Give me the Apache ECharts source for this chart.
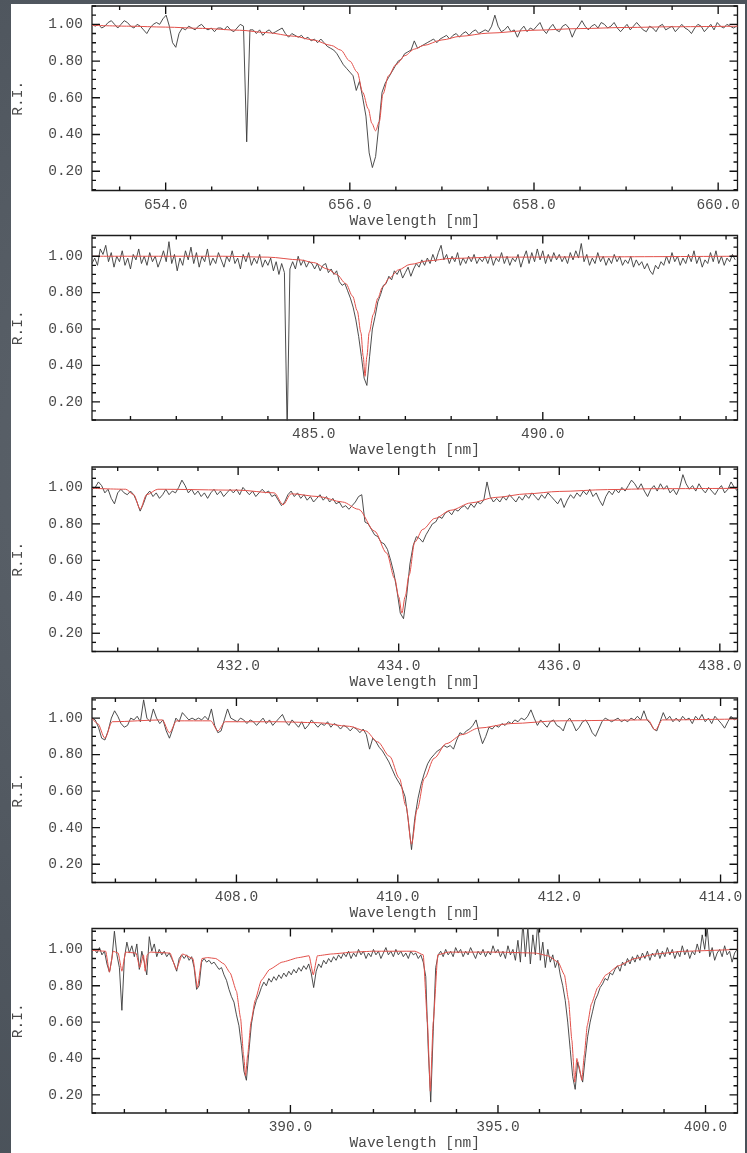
<!DOCTYPE html>
<html>
<head>
<meta charset="utf-8">
<script src="https://cdn.jsdelivr.net/npm/echarts@6/dist/echarts.min.js"></script>
<style>
  html, body { margin: 0; padding: 0; }
  body { width: 747px; height: 1153px; position: relative; overflow: hidden;
         background: radial-gradient(circle at 30% 40%, #5d646c 0%, #4f565e 60%, #485058 100%); }
  #sheet { position: absolute; left: 11px; top: 4px; width: 734px; height: 1149px; background: #ffffff; }
  #chart { position: absolute; left: 0; top: 0; width: 747px; height: 1153px; }
</style>
</head>
<body>
<div id="sheet"></div>
<div id="chart"></div>
<script>
// ---- H-alpha region: observed flux sampled from ha_wl0 with ha_step (nm) ----
const ha_wl0 = 653.2, ha_step = 0.035;
const ha_obs = [
  1.00,0.99,1.00,0.98,0.99,1.01,1.02,1.00,0.98,1.00,
  1.02,1.01,0.99,0.98,1.00,0.99,0.97,0.95,0.98,1.00,
  1.01,1.00,1.03,1.05,0.99,0.90,0.875,0.95,0.98,0.97,
  0.99,0.98,0.97,0.99,1.00,0.98,0.97,0.98,0.96,0.98,
  0.98,0.97,0.99,0.97,0.96,0.98,1.00,0.99,0.36,0.97,
  0.97,0.95,0.97,0.94,0.96,0.97,0.95,0.96,0.97,0.98,
  0.95,0.93,0.95,0.94,0.93,0.94,0.92,0.93,0.91,0.92,
  0.90,0.92,0.90,0.88,0.87,0.86,0.84,0.81,0.78,0.76,
  0.74,0.72,0.64,0.69,0.60,0.50,0.30,0.22,0.28,0.45,
  0.63,0.68,0.71,0.74,0.77,0.80,0.81,0.84,0.85,0.86,
  0.91,0.87,0.88,0.89,0.90,0.91,0.92,0.90,0.92,0.93,
  0.94,0.92,0.94,0.95,0.93,0.95,0.96,0.94,0.96,0.97,
  0.95,0.96,0.97,0.96,0.99,1.05,0.99,0.96,0.97,0.99,
  0.96,0.97,0.93,0.97,0.99,0.96,0.98,0.97,0.99,1.01,
  0.97,0.95,0.98,1.00,0.97,0.96,0.99,1.00,0.98,0.93,
  0.97,0.99,1.02,0.99,0.97,0.99,1.00,0.98,1.01,1.00,
  0.98,0.99,1.01,0.98,0.96,0.98,1.00,0.97,0.99,1.01,
  0.99,0.97,0.96,0.99,0.98,0.96,0.99,1.00,0.97,0.98,
  0.99,0.96,0.98,1.00,0.98,0.97,0.95,0.98,1.00,0.99,
  0.96,0.98,1.00,0.97,1.01,0.99,0.98,1.00,0.99,0.98,
  0.99
];
const ha_fit_wl = [653.2,653.6,654.0,654.4,654.8,655.1,655.4,655.6,655.8,655.9,656.0,656.08,656.14,656.2,656.24,656.28,656.32,656.36,656.42,656.5,656.6,656.7,656.8,657.0,657.2,657.5,658.0,658.5,659.0,659.5,660.21];
const ha_fit    = [0.995,0.99,0.985,0.978,0.968,0.955,0.935,0.915,0.885,0.86,0.80,0.74,0.63,0.54,0.46,0.42,0.47,0.62,0.72,0.78,0.83,0.865,0.885,0.915,0.935,0.952,0.968,0.977,0.983,0.987,0.99];
const ha_ticks  = [654, 656, 658, 660];

// ---- H-beta region ----
const hb_wl0 = 480.16, hb_step = 0.06;
const hb_obs = [
  0.96,0.99,0.95,1.04,1.01,1.06,0.97,1.02,0.94,1.00,
  0.97,1.03,0.95,0.99,0.93,1.01,0.98,1.04,0.96,1.00,
  0.95,1.02,0.97,1.00,0.94,0.98,1.03,0.97,1.08,0.96,
  1.01,0.92,0.99,0.95,1.03,0.98,1.05,0.96,1.02,0.94,
  1.00,0.97,1.04,0.95,0.99,0.96,1.02,0.98,0.94,1.00,
  0.97,1.03,0.96,0.99,0.93,1.01,0.97,1.02,0.95,0.99,
  0.96,1.01,0.94,0.98,0.95,0.99,0.92,0.97,0.90,0.96,
  0.91,0.04,0.93,0.97,0.93,1.00,0.95,0.98,0.94,0.97,
  0.96,0.93,0.96,0.92,0.95,0.96,0.91,0.93,0.90,0.92,
  0.86,0.84,0.85,0.81,0.77,0.72,0.65,0.56,0.45,0.33,
  0.29,0.45,0.60,0.67,0.75,0.79,0.84,0.85,0.89,0.87,
  0.92,0.90,0.93,0.88,0.91,0.94,0.89,0.93,0.96,0.94,
  0.98,0.95,0.99,0.96,1.01,0.97,1.02,1.06,0.98,1.01,
  0.96,1.00,0.97,1.02,0.95,0.99,0.96,1.00,0.97,1.01,
  0.96,0.99,0.97,1.00,0.96,1.01,0.95,0.99,0.97,1.02,
  0.96,1.00,0.95,0.99,0.97,1.01,0.94,0.99,1.03,0.96,
  1.02,0.97,1.04,0.98,1.03,0.96,1.01,0.97,1.02,0.98,
  1.01,0.97,1.00,0.96,1.02,0.98,1.03,0.99,1.07,0.97,
  1.01,0.95,0.99,0.96,1.02,0.97,1.00,0.95,0.99,0.96,
  1.01,0.97,1.00,0.95,0.98,0.96,1.00,0.94,0.98,0.95,
  0.97,0.93,0.96,0.92,0.90,0.95,0.93,0.97,0.95,1.00,
  0.96,1.02,0.97,1.00,0.95,0.99,0.96,1.01,0.97,1.03,
  0.96,1.00,0.94,0.98,0.96,1.02,0.97,1.03,0.96,1.00,
  0.95,0.99,0.97,1.01,0.98
];
const hb_fit_wl = [480.16,483.0,484.0,484.7,485.0,485.3,485.5,485.7,485.85,485.95,486.03,486.08,486.12,486.16,486.21,486.3,486.4,486.5,486.65,486.85,487.1,487.5,488.0,489.0,494.25];
const hb_fit    = [1.0,1.0,0.995,0.98,0.965,0.93,0.90,0.85,0.78,0.70,0.58,0.45,0.34,0.45,0.58,0.68,0.77,0.83,0.88,0.925,0.955,0.975,0.988,0.995,1.0];
const hb_ticks  = [485, 490];

// ---- H-gamma region ----
const hg_wl0 = 430.18, hg_step = 0.04;
const hg_obs = [
  0.99,1.00,1.03,1.01,0.97,0.99,0.94,0.91,0.97,0.99,
  0.97,0.96,0.98,0.96,0.92,0.87,0.91,0.96,0.98,0.95,
  0.97,0.94,0.96,0.99,0.96,0.98,0.97,1.00,1.04,1.01,
  0.97,0.99,0.96,0.98,0.95,0.97,0.94,0.97,0.99,0.96,
  0.98,0.95,0.97,0.99,0.97,0.99,0.96,1.00,0.98,0.96,
  0.98,0.95,0.97,0.99,0.97,0.98,0.95,0.96,0.93,0.90,
  0.92,0.96,0.98,0.95,0.97,0.94,0.96,0.93,0.95,0.92,
  0.94,0.96,0.93,0.95,0.92,0.94,0.91,0.92,0.89,0.90,
  0.88,0.90,0.92,0.95,0.96,0.81,0.80,0.77,0.74,0.73,
  0.70,0.69,0.66,0.60,0.53,0.43,0.31,0.28,0.41,0.58,
  0.68,0.73,0.72,0.70,0.74,0.77,0.80,0.81,0.84,0.83,
  0.86,0.87,0.85,0.88,0.87,0.89,0.90,0.88,0.91,0.89,
  0.92,0.91,0.93,1.03,0.95,0.92,0.94,0.92,0.95,0.93,
  0.96,0.94,0.92,0.95,0.93,0.96,0.94,0.97,0.95,0.93,
  0.96,0.94,0.97,0.95,0.93,0.91,0.94,0.89,0.93,0.96,
  0.94,0.97,0.95,0.98,0.96,0.99,0.95,0.97,0.93,0.90,
  0.95,0.98,0.96,0.99,0.97,1.00,0.98,1.01,1.04,1.02,
  0.99,1.02,0.98,0.95,0.99,1.01,0.98,1.02,0.99,1.01,
  0.97,0.99,0.96,1.00,1.07,1.02,0.99,1.01,0.98,1.02,
  0.99,0.97,1.00,0.98,0.96,0.99,1.01,0.97,0.99,1.03,
  1.00,0.98
];
const hg_fit_wl = [430.18,430.6,430.7,430.78,430.86,431.0,432.0,432.45,432.56,432.66,433.0,433.3,433.5,433.7,433.85,433.95,434.0,434.04,434.08,434.13,434.2,434.3,434.45,434.65,434.9,435.2,435.6,436.0,436.6,437.2,438.22];
const hg_fit    = [0.995,0.99,0.96,0.88,0.96,0.99,0.985,0.97,0.905,0.965,0.95,0.92,0.88,0.76,0.64,0.50,0.40,0.31,0.40,0.52,0.70,0.77,0.83,0.875,0.915,0.945,0.965,0.978,0.988,0.993,0.995];
const hg_ticks  = [432, 434, 436, 438];

// ---- H-delta region ----
const hd_wl0 = 406.21, hd_step = 0.04;
const hd_obs = [
  1.00,0.99,0.95,0.89,0.88,0.93,1.00,1.04,1.01,0.97,
  0.95,0.96,1.00,0.99,1.01,0.98,1.10,1.00,0.98,1.05,
  1.00,0.97,0.99,0.93,0.89,0.94,1.00,0.98,1.03,1.01,
  0.99,1.00,0.99,1.00,0.99,1.01,0.99,1.05,0.96,0.92,
  0.93,0.99,1.05,1.00,0.99,0.98,1.00,0.99,0.97,0.99,
  0.98,0.96,0.98,1.00,0.97,0.99,0.96,0.98,1.00,1.02,
  0.98,0.96,0.99,0.97,0.95,0.98,0.94,0.96,0.99,0.97,
  0.95,0.97,0.96,0.98,0.95,0.97,0.96,0.94,0.96,0.95,
  0.93,0.95,0.94,0.92,0.94,0.91,0.83,0.89,0.87,0.84,
  0.82,0.79,0.76,0.72,0.68,0.65,0.62,0.57,0.44,0.28,
  0.45,0.56,0.64,0.70,0.75,0.78,0.80,0.82,0.83,0.85,
  0.84,0.85,0.83,0.88,0.92,0.91,0.93,0.94,0.96,0.99,
  0.92,0.86,0.90,0.95,0.94,0.96,0.95,0.97,0.96,0.98,
  0.97,0.99,0.98,1.00,0.99,1.01,1.045,1.00,0.96,0.99,
  0.97,0.95,0.98,0.99,0.96,0.95,0.93,0.98,1.00,0.97,
  0.93,0.95,0.98,0.99,0.96,0.92,0.90,0.94,0.98,1.00,
  0.99,0.98,0.99,1.00,0.98,0.99,0.98,1.00,0.99,1.01,
  0.99,1.04,0.99,0.97,0.94,0.93,0.98,1.03,0.99,1.01,
  0.98,1.00,0.98,1.01,0.99,1.00,0.97,1.01,0.99,1.02,
  0.98,1.00,0.97,1.01,0.99,0.97,0.945,0.98,1.01,0.99,
  1.00
];
const hd_fit_wl = [406.21,406.28,406.37,406.46,407.08,407.17,407.26,407.68,407.77,407.86,408.5,409.0,409.4,409.6,409.75,409.9,410.02,410.1,410.17,410.24,410.33,410.45,410.6,410.8,411.0,411.4,412.0,413.1,413.19,413.28,414.21];
const hd_fit    = [1.0,0.97,0.89,0.98,0.99,0.92,0.985,0.985,0.93,0.98,0.98,0.975,0.955,0.93,0.87,0.79,0.67,0.52,0.31,0.50,0.67,0.78,0.86,0.91,0.945,0.97,0.985,0.99,0.935,0.99,0.995];
const hd_ticks  = [408, 410, 412, 414];

// ---- H8 / Ca II K / Ca II H + H-epsilon region ----
const hk_wl0 = 385.22, hk_step = 0.06;
const hk_obs = [
  0.99,1.00,0.98,1.01,0.97,0.99,0.92,0.875,0.95,1.10,
  0.97,0.90,0.665,0.95,1.04,0.98,1.02,0.96,1.03,0.89,
  0.99,0.93,0.86,1.07,0.99,1.03,0.96,1.00,0.97,0.99,
  0.96,0.98,0.95,0.92,0.88,0.95,0.97,0.95,0.97,0.94,
  0.96,0.90,0.78,0.80,0.93,0.95,0.93,0.94,0.92,0.93,
  0.91,0.89,0.90,0.86,0.83,0.78,0.74,0.71,0.64,0.58,
  0.47,0.33,0.28,0.44,0.59,0.67,0.72,0.75,0.79,0.82,
  0.80,0.84,0.82,0.85,0.83,0.86,0.84,0.87,0.85,0.88,
  0.86,0.89,0.87,0.90,0.88,0.91,0.89,0.92,0.87,0.79,
  0.88,0.92,0.90,0.94,0.92,0.95,0.93,0.96,0.94,0.97,
  0.95,0.98,0.96,0.99,0.95,0.98,0.96,1.00,0.97,0.99,
  0.95,0.98,0.96,1.00,0.97,0.99,0.95,0.98,1.01,0.97,
  0.99,0.96,1.00,0.97,0.99,0.96,0.98,0.95,0.99,0.97,
  0.98,0.95,0.97,0.93,0.85,0.45,0.16,0.55,0.90,0.97,
  0.99,0.96,1.00,0.97,0.99,0.96,1.01,0.98,1.00,0.96,
  0.99,0.97,1.01,0.98,0.95,0.99,0.97,1.00,0.96,0.99,
  0.97,1.02,0.98,1.00,0.96,0.99,0.95,1.02,0.97,1.00,
  0.94,1.05,0.93,1.15,0.96,1.12,0.92,1.08,0.97,1.15,
  0.94,1.04,0.90,1.00,0.93,0.97,0.90,0.94,0.86,0.80,
  0.72,0.60,0.45,0.30,0.23,0.38,0.32,0.27,0.40,0.52,
  0.60,0.66,0.72,0.75,0.79,0.81,0.84,0.83,0.87,0.86,
  0.89,0.91,0.88,0.93,0.91,0.95,0.92,0.96,0.93,0.97,
  0.94,0.98,0.95,0.99,0.94,0.98,0.96,1.00,0.95,0.99,
  0.96,1.01,0.97,1.00,0.95,0.99,0.96,1.02,0.97,1.00,
  0.95,0.99,0.97,1.03,0.98,1.08,1.00,1.12,0.96,1.01,
  0.94,0.98,1.00,0.96,1.02,0.97,0.99,0.93,0.98,1.00
];
const hk_fit_wl = [385.22,385.55,385.64,385.73,385.85,385.94,386.03,386.28,386.37,386.46,386.5,386.55,386.62,387.1,387.25,387.4,387.65,387.76,387.87,388.0,388.2,388.4,388.55,388.7,388.8,388.87,388.92,388.97,389.05,389.15,389.3,389.5,389.8,390.2,390.45,390.55,390.65,391.0,391.5,392.0,393.0,393.2,393.3,393.37,393.44,393.55,393.8,395.0,395.9,396.2,396.45,396.6,396.7,396.78,396.85,396.9,396.95,397.02,397.08,397.15,397.25,397.4,397.6,397.9,398.3,398.8,399.5,400.77];
const hk_fit    = [0.995,0.99,0.875,0.99,0.98,0.88,0.985,0.98,0.90,0.97,0.88,0.97,0.985,0.98,0.89,0.975,0.95,0.79,0.95,0.955,0.95,0.92,0.87,0.77,0.62,0.42,0.305,0.42,0.60,0.72,0.83,0.89,0.93,0.955,0.965,0.86,0.965,0.975,0.985,0.99,0.99,0.97,0.60,0.22,0.60,0.97,0.985,0.985,0.98,0.965,0.93,0.86,0.72,0.50,0.27,0.40,0.36,0.28,0.42,0.58,0.70,0.79,0.86,0.91,0.95,0.975,0.99,1.0];
const hk_ticks  = [390, 395, 400];

// relative-intensity labels shared by every panel
const ri_ticks = [0.2, 0.4, 0.6, 0.8, 1.0];

const INK = '#1c1c1c';
const TXT = '#4a4a4a';
const FONT = "'Liberation Mono', 'DejaVu Sans Mono', monospace";
const OBS_COLOR = '#3a3a3a';
const FIT_COLOR = '#e2504a';
const GRID_W = 645.5, GRID_H = 184.5;
const MAJOR_LEN = 8, MINOR_LEN = 4;   // tick lengths in pixels

function sampled(wl0, step, flux) {
  return flux.map((f, i) => [+(wl0 + i * step).toFixed(4), f]);
}
function paired(wl, flux) {
  return wl.map((w, i) => [w, flux[i]]);
}
function stepValues(lo, hi, step) {
  const out = [];
  for (let k = Math.ceil(lo / step - 1e-9); k * step <= hi + 1e-9; k++) out.push(+(k * step).toFixed(4));
  return out;
}

const panels = [
  { top: 6,     xMin: 653.2,  xMax: 660.21, yMin: 0.095, yMax: 1.10,  labels: ha_ticks, minor: 0.5,
    obs: sampled(ha_wl0, ha_step, ha_obs), fit: paired(ha_fit_wl, ha_fit), smooth: 0.3 },
  { top: 235.5, xMin: 480.16, xMax: 494.25, yMin: 0.10,  yMax: 1.114, labels: hb_ticks, minor: 1,
    obs: sampled(hb_wl0, hb_step, hb_obs), fit: paired(hb_fit_wl, hb_fit), smooth: 0.3 },
  { top: 467,   xMin: 430.18, xMax: 438.22, yMin: 0.10,  yMax: 1.112, labels: hg_ticks, minor: 0.5,
    obs: sampled(hg_wl0, hg_step, hg_obs), fit: paired(hg_fit_wl, hg_fit), smooth: 0.3 },
  { top: 698,   xMin: 406.21, xMax: 414.21, yMin: 0.10,  yMax: 1.11,  labels: hd_ticks, minor: 0.5,
    obs: sampled(hd_wl0, hd_step, hd_obs), fit: paired(hd_fit_wl, hd_fit), smooth: 0.3 },
  { top: 928.5, xMin: 385.22, xMax: 400.77, yMin: 0.10,  yMax: 1.115, labels: hk_ticks, minor: 1,
    obs: sampled(hk_wl0, hk_step, hk_obs), fit: paired(hk_fit_wl, hk_fit), smooth: 0.15 }
];

const grid = [], xAxis = [], yAxis = [], series = [];
const textBase = { color: TXT, fontFamily: FONT, fontSize: 14.5 };

// inward tick segments on all four sides of a frame, in data coordinates
function frameTicks(P) {
  const segs = [];
  const isMajor = (list, v) => list.some(m => Math.abs(m - v) < 1e-6);
  const yPerPx = (P.yMax - P.yMin) / GRID_H;
  const xPerPx = (P.xMax - P.xMin) / GRID_W;
  stepValues(P.xMin, P.xMax, P.minor).forEach(v => {
    const dy = (isMajor(P.labels, v) ? MAJOR_LEN : MINOR_LEN) * yPerPx;
    segs.push([[v, P.yMin], [v, P.yMin + dy]]);
    segs.push([[v, P.yMax], [v, P.yMax - dy]]);
  });
  stepValues(P.yMin, P.yMax, 0.05).forEach(v => {
    const dx = (isMajor(ri_ticks, v) ? MAJOR_LEN : MINOR_LEN) * xPerPx;
    segs.push([[P.xMin, v], [P.xMin + dx, v]]);
    segs.push([[P.xMax, v], [P.xMax - dx, v]]);
  });
  return segs;
}

panels.forEach((P, p) => {
  grid.push({ left: 92, top: P.top, width: GRID_W, height: GRID_H, show: true,
              borderColor: INK, borderWidth: 1.3, backgroundColor: 'transparent' });

  xAxis.push({
    type: 'value', gridIndex: p, min: P.xMin, max: P.xMax, position: 'bottom',
    axisLine: { show: false, onZero: false }, splitLine: { show: false }, axisTick: { show: false },
    axisLabel: Object.assign({ show: true, customValues: P.labels, margin: 7, formatter: v => v.toFixed(1) }, textBase),
    name: 'Wavelength [nm]', nameLocation: 'middle', nameGap: 23, nameTextStyle: textBase
  });
  yAxis.push({
    type: 'value', gridIndex: p, min: P.yMin, max: P.yMax, position: 'left',
    axisLine: { show: false, onZero: false }, splitLine: { show: false }, axisTick: { show: false },
    axisLabel: Object.assign({ show: true, customValues: ri_ticks, margin: 9, formatter: v => v.toFixed(2) }, textBase),
    name: 'R.I.', nameLocation: 'middle', nameGap: 66, nameTextStyle: textBase
  });

  series.push({ type: 'line', xAxisIndex: p, yAxisIndex: p, data: P.obs,
                symbol: 'none', clip: true, silent: true, z: 2,
                lineStyle: { color: OBS_COLOR, width: 0.9 } });
  series.push({ type: 'line', xAxisIndex: p, yAxisIndex: p, data: P.fit,
                symbol: 'none', clip: true, silent: true, z: 3,
                smooth: P.smooth, smoothMonotone: 'x',
                lineStyle: { color: FIT_COLOR, width: 1 } });

  // frame ticks, one short segment each
  frameTicks(P).forEach(seg => {
    series.push({ type: 'line', xAxisIndex: p, yAxisIndex: p, data: seg,
                  symbol: 'none', showSymbol: false, clip: false, silent: true, z: 4,
                  lineStyle: { color: '#111111', width: 1.35 } });
  });
});

const chart = echarts.init(document.getElementById('chart'), null, { renderer: 'canvas' });
chart.setOption({
  animation: false,
  backgroundColor: 'transparent',
  grid, xAxis, yAxis, series
});
</script>
</body>
</html>
